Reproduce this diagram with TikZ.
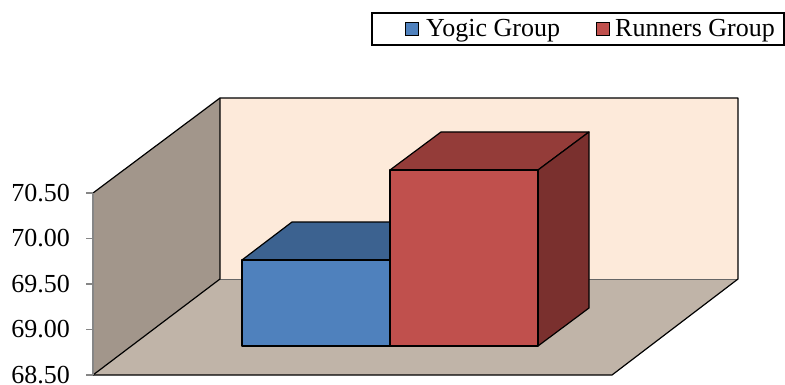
\documentclass[tikz,border=0pt]{standalone}
\usepackage{fontspec}
\setmainfont{Liberation Serif}
\definecolor{leftwall}{RGB}{162,150,139}
\definecolor{backwall}{RGB}{253,234,218}
\definecolor{floorc}{RGB}{192,180,168}
\definecolor{bluefront}{RGB}{79,129,189}
\definecolor{bluetop}{RGB}{60,98,144}
\definecolor{redfront}{RGB}{192,80,77}
\definecolor{redtop}{RGB}{148,60,57}
\definecolor{redside}{RGB}{122,48,46}
\definecolor{axisgray}{RGB}{134,134,134}
\begin{document}
\begin{tikzpicture}[x=1pt,y=-1pt,
  font=\fontsize{26}{30}\selectfont,
  edge/.style={draw=black, line width=1.2pt, line join=round},
  faint/.style={draw=black!60, line width=1pt},
  ticklabel/.style={anchor=east, inner sep=0pt},
  legtext/.style={anchor=base west, inner sep=0pt},
  legsq/.style={draw=black, line width=1.3pt, minimum size=13pt, inner sep=0pt}]
\useasboundingbox (0,0) rectangle (785,385);
% walls and floor
\fill[leftwall] (93,193) -- (220,98) -- (220,279) -- (93,375) -- cycle;
\fill[backwall] (220,98) rectangle (738,279);
\fill[floorc] (93,375) -- (220,279) -- (738,279) -- (612,375) -- cycle;
\draw[faint] (220,279) -- (738,279);
\draw[edge] (93,193) -- (220,98) -- (738,98) -- (738,279) -- (612,375) -- (93,375);
\draw[edge] (220,98) -- (220,279) -- (93,375);
% axis and ticks
\draw[axisgray, line width=1.5pt] (93,193) -- (93,375);
\foreach \yy in {193,238.5,284,329.5,375} \draw[axisgray, line width=1.5pt] (86,\yy) -- (93,\yy);
\node[ticklabel] (t1) at (70,193) {70.50};
\node[ticklabel] (t2) at (70,238.5) {70.00};
\node[ticklabel] (t3) at (70,284) {69.50};
\node[ticklabel] (t4) at (70,329.5) {69.00};
\node[ticklabel] (t5) at (70,375) {68.50};
% blue bar
\filldraw[fill=bluetop, edge] (242,260) -- (292,222) -- (441,222) -- (390,260) -- cycle;
\filldraw[fill=bluefront, edge] (242,260) rectangle (390,346);
% red bar
\filldraw[fill=redtop, edge] (390,170) -- (441,132) -- (589,132) -- (538,170) -- cycle;
\filldraw[fill=redside, edge] (538,170) -- (589,132) -- (589,308) -- (538,346) -- cycle;
\filldraw[fill=redfront, edge] (390,170) rectangle (538,346);
% legend
\draw[black, line width=2pt] (372,13) rectangle (784,45);
\node[legsq, fill=bluefront] (lb) at (412,29) {};
\node[legtext] (ly) at (426,37) {Yogic Group};
\node[legsq, fill=redfront] (lr) at (603,29) {};
\node[legtext] (lrt) at (615,37) {Runners Group};
\end{tikzpicture}
\end{document}
